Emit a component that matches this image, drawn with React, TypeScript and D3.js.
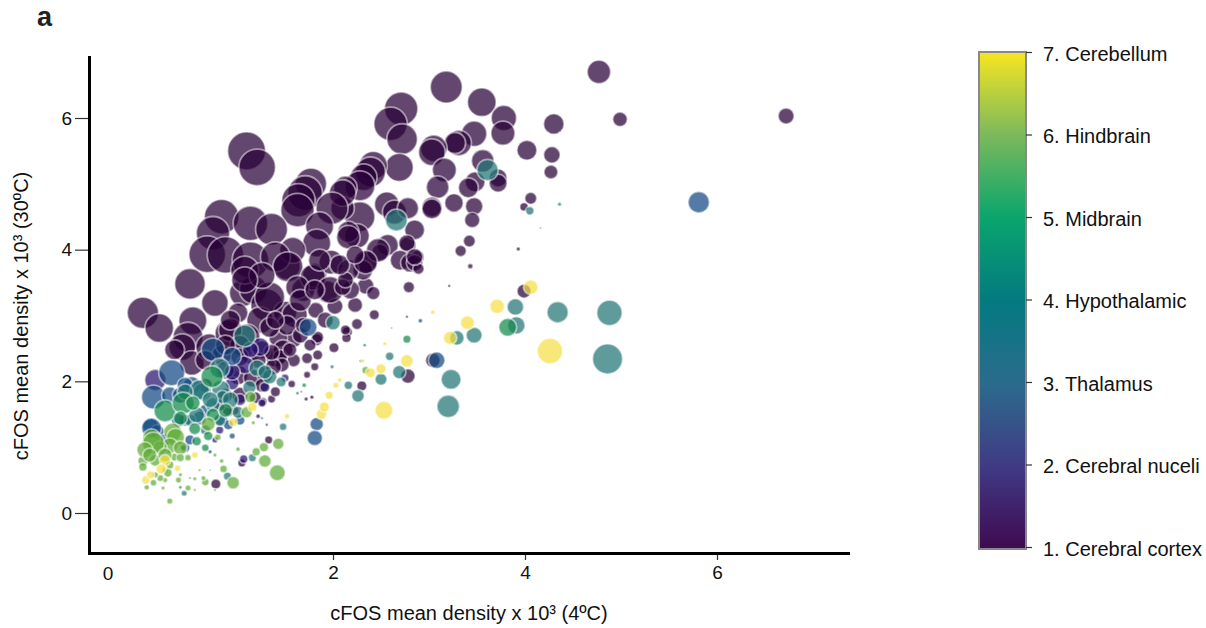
import React, { useEffect, useRef } from 'react';
import * as d3 from 'd3';

// each point: [4C density, 30C density, region volume]
const cortex = [
  [3.18,6.47,256],[3.55,6.24,205],[4.77,6.70,137],[4.99,5.98,53],[6.72,6.03,64],[3.78,6.00,161],[3.77,5.77,144],[4.30,5.91,106],
  [4.02,5.51,100],[4.28,5.44,69],[4.27,5.18,49],[2.71,6.14,279],[2.60,5.91,279],[2.72,5.68,234],[2.69,5.25,196],[3.47,5.76,161],
  [3.31,5.62,161],[3.27,5.62,114],[3.05,5.54,177],[3.03,5.48,177],[3.16,5.21,144],[3.09,4.95,128],[3.56,5.35,128],[3.72,5.09,81],
  [3.72,5.01,81],[3.48,5.03,100],[3.41,4.94,100],[3.26,4.71,86],[3.47,4.66,76],[3.45,4.45,59],[3.03,4.65,100],[3.03,4.62,100],
  [3.42,4.13,36],[3.33,3.98,32],[4.06,4.78,36],[3.99,4.65,18],[3.93,4.01,4],[2.42,5.28,196],[2.39,5.18,225],[2.32,5.10,177],
  [2.28,4.97,225],[2.56,4.69,151],[2.64,4.57,144],[2.78,4.63,114],[2.28,4.50,225],[2.13,4.94,137],[2.10,4.63,137],[2.25,4.21,151],
  [2.35,3.81,114],[2.57,4.07,114],[2.49,3.96,69],[2.78,4.07,69],[2.85,4.30,100],[2.88,3.89,45],[2.70,3.84,100],[2.80,3.80,86],
  [2.85,3.80,69],[2.89,3.71,32],[2.79,3.43,32],[3.43,3.75,7],[3.21,3.45,2],[1.77,5.00,246],[1.71,4.86,299],[1.64,4.75,279],
  [1.63,4.60,279],[2.10,4.86,177],[1.99,4.63,256],[1.86,4.36,196],[1.83,4.10,196],[1.10,5.50,361],[1.21,5.25,335],[0.84,4.50,299],
  [0.75,4.25,279],[1.14,4.40,299],[1.36,4.31,256],[0.69,3.93,335],[0.88,3.92,335],[1.14,3.84,335],[0.51,3.48,234],[0.02,3.04,246],
  [0.19,2.81,205],[0.77,3.19,177],[0.54,2.92,196],[0.49,2.67,225],[0.43,2.52,177],[0.53,2.28,151],[0.71,2.52,177],[0.91,2.73,177],
  [1.06,3.34,177],[1.17,3.39,196],[1.31,3.16,256],[1.24,2.93,177],[1.10,2.67,177],[1.50,3.04,137],[1.60,3.01,161],[1.69,3.39,137],
  [1.94,3.36,121],[2.02,3.14,64],[2.23,3.16,56],[2.34,3.45,69],[2.42,3.34,45],[2.43,3.01,25],[2.25,2.87,30],[2.15,2.75,25],
  [2.14,2.66,22],[2.01,2.51,25],[1.84,2.40,25],[1.73,2.35,30],[1.81,2.22,16],[1.73,2.10,12],[1.59,2.64,69],[1.43,2.66,86],
  [1.52,2.85,100],[1.34,2.82,100],[1.40,2.37,100],[1.48,2.48,100],[1.83,2.63,36],[1.59,2.32,45],[1.01,3.04,100],[1.57,1.96,14],
  [1.78,1.76,4],[1.72,1.73,4],[1.67,1.84,1],[1.36,1.73,16],[1.27,1.69,18],[1.33,1.11,16],[0.97,1.56,22],[0.91,1.55,32],
  [1.22,1.47,5],[1.31,1.34,2],[0.78,0.44,25],[1.05,0.76,16],[2.30,1.93,25],[3.99,3.37,49],[3.04,2.32,53],[2.78,2.08,53],
  [2.77,2.98,2],[1.52,3.75,177],[1.81,3.61,144],[1.98,3.81,144],[1.58,3.99,169],[1.40,3.89,225],[1.53,3.74,225],[1.34,3.28,225],
  [1.79,3.58,161],[1.97,3.39,177],[1.63,3.43,137],[2.31,3.69,100],[2.16,3.69,114],[2.18,3.39,86],[2.16,4.27,114],[2.77,4.10,69],
  [2.85,3.89,69],[2.16,4.19,137],[2.47,3.99,137],[2.34,3.81,137],[2.10,3.43,69],[0.93,2.78,137],[1.45,2.37,53],[1.84,2.67,36],
  [2.13,2.78,25],[1.08,3.69,196],[1.26,3.61,169],[1.08,3.54,169],[1.03,2.55,100],[1.14,2.40,81],[1.26,2.48,81],[0.84,2.40,100],
  [1.01,2.10,100],[1.16,2.05,81],[1.29,2.10,64],[1.03,1.79,64],[0.88,1.79,49],[0.35,2.48,100],[1.47,2.25,49],[1.38,2.22,64],
  [1.19,1.75,36],[1.82,3.08,64],[1.92,2.93,64],[1.66,2.70,64],[1.76,2.55,36],[1.55,2.48,49],[1.36,2.44,64],[1.22,2.32,64],
  [0.93,2.93,100],[1.03,2.37,81],[0.88,2.55,100],[1.40,2.93,81],[1.69,2.85,64],[2.13,3.54,64],[2.07,3.77,100],[2.23,3.92,81],
  [1.86,3.84,121],[1.66,3.23,121],[1.81,3.39,100],[0.67,2.32,100],[1.26,1.94,49],[1.40,1.84,25],
];
const nuclei = [
  [1.24,2.52,86],[1.08,2.25,81],[0.15,2.02,114],[0.95,1.97,45],[1.29,1.91,25],[1.07,0.82,18],[0.88,2.17,81],[1.50,2.05,16],
  [0.82,1.26,16],[0.77,1.11,9],[1.14,2.48,64],[0.95,2.14,64],[0.67,1.94,49],[1.03,1.72,36],[0.82,1.64,36],[1.26,1.67,16],
];
const thalamus = [
  [1.74,2.82,81],[0.75,2.48,137],[0.95,2.38,86],[0.32,2.13,169],[0.53,1.94,76],[0.13,1.76,144],[0.30,1.79,69],[0.10,1.32,64],
  [0.17,1.23,53],[0.46,1.41,36],[0.46,0.99,22],[1.83,1.35,45],[1.81,1.14,59],[5.81,4.72,114],[2.91,2.92,5],[3.08,2.32,69],
  [0.67,1.56,36],[0.95,1.17,9],[0.72,0.93,4],[0.11,1.29,100],[0.41,1.79,64],[0.46,1.94,64],[0.61,1.44,49],[0.39,1.41,49],
  [0.84,1.41,36],[1.03,1.41,25],[0.91,1.34,25],[0.25,1.11,36],[0.51,1.11,25],
];
const hypothalamic = [
  [3.61,5.21,114],[2.66,4.45,121],[4.05,4.59,18],[4.36,4.69,4],[4.16,4.33,1],[2.00,2.89,53],[1.08,2.69,121],[1.21,2.20,69],
  [0.82,2.20,100],[0.64,1.84,81],[0.83,1.88,81],[1.34,2.07,53],[1.46,1.99,25],[1.13,1.91,45],[0.75,1.64,53],[0.85,1.76,45],
  [1.48,1.31,14],[2.16,1.94,18],[2.26,1.78,40],[2.29,2.31,3],[1.99,2.22,4],[2.33,2.55,3],[1.63,1.82,3],[2.50,2.03,36],
  [2.69,2.14,45],[2.59,2.38,18],[2.61,2.81,1],[3.23,2.03,100],[3.20,1.62,128],[3.29,2.66,53],[3.47,2.70,64],[3.90,3.13,69],
  [3.91,2.85,76],[4.34,3.05,114],[4.88,3.04,161],[4.86,2.34,225],[0.45,0.30,9],[0.90,0.56,16],[1.16,0.84,16],[1.26,1.44,2],
  [0.41,0.39,3],[0.51,1.41,36],[0.61,1.87,100],[0.72,1.72,64],[0.58,1.49,64],[0.93,1.72,64],[0.46,1.84,64],[1.01,1.53,36],
  [0.67,1.26,25],[0.44,0.99,9],[0.82,1.41,36],[1.29,2.14,49],
];
const midbrain = [
  [0.74,2.07,121],[0.25,1.55,121],[0.44,1.67,121],[0.54,1.67,53],[0.75,1.49,45],[0.56,1.28,36],[0.70,1.17,22],[0.58,1.09,22],
  [0.67,0.99,14],[1.70,1.94,5],[2.77,2.64,16],[3.82,2.82,81],[0.41,1.44,49],[0.88,1.56,49],
];
const hindbrain = [
  [0.70,1.35,49],[1.10,1.53,32],[1.14,1.76,32],[0.11,1.14,81],[0.33,1.23,81],[0.36,1.15,81],[0.30,1.02,64],
  [0.02,0.79,25],[0.15,0.80,36],[0.49,0.84,11],[0.35,0.85,16],[0.30,0.73,16],[0.13,0.46,11],[0.06,0.39,7],[0.25,0.50,7],
  [0.49,0.38,9],[0.30,0.18,9],[0.67,0.47,14],[0.56,0.52,4],[0.96,0.46,40],[0.86,0.67,14],[0.84,0.79,5],[1.01,0.97,5],
  [0.80,1.15,11],[1.29,0.79,40],[1.42,0.61,64],[1.43,1.05,32],[1.28,1.00,22],[1.20,0.93,18],[1.17,1.37,4],[2.34,2.17,14],
  [0.20,0.99,49],[0.25,0.65,9],[0.41,0.58,4],[0.61,0.65,2],[0.72,0.65,1],[0.77,0.35,2],[0.51,0.53,2],[0.13,1.06,121],
  [0.41,0.99,49],[0.04,0.96,64],[0.09,0.88,49],[0.25,0.88,49],[0.41,0.84,16],[0.28,0.61,18],
  [0.02,0.70,18],[0.20,0.53,12],[0.39,0.50,9],[0.15,0.58,9],[0.77,0.88,4],[0.65,0.53,6],[0.56,0.35,2],[0.23,0.38,4],
];
const cerebellum = [
  [1.16,1.61,22],[0.96,1.38,18],[0.25,0.80,32],[0.21,0.67,25],[0.05,0.50,18],[0.10,0.58,16],[0.38,0.68,11],[0.56,0.88,11],
  [1.52,1.47,7],[1.88,1.50,28],[1.91,1.61,25],[1.96,1.79,16],[2.03,1.94,9],[2.07,2.02,5],[2.31,2.31,4],[2.54,2.57,4],
  [2.39,2.13,25],[2.50,2.19,25],[2.53,1.56,81],[2.77,2.31,40],[3.04,3.05,5],[3.22,2.66,45],[3.40,2.89,49],[3.71,3.14,53],
  [4.06,3.43,53],[4.26,2.46,161],
];

const regions = [cortex, nuclei, thalamus, hypothalamic, midbrain, hindbrain, cerebellum];
const regionFills = ['#2a0038', '#28136d', '#134a82', '#217474', '#13894a', '#5fab36', '#f4df44'];
const regionLabels = ['1. Cerebral cortex', '2. Cerebral nuceli', '3. Thalamus', '4. Hypothalamic', '5. Midbrain', '6. Hindbrain', '7. Cerebellum'];
const barColors = ['#3f0a50', '#403a85', '#2b6b8c', '#037a80', '#0aa56c', '#7cb95c', '#f7e620'];
const xTicks = [2, 4, 6];
const yTicks = [0, 2, 4, 6];
const barLevels = [1, 2, 3, 4, 5, 6, 7];

const font = '"Liberation Sans", Arial, sans-serif';

function App() {
  const xAxisRef = useRef<SVGGElement>(null);
  const yAxisRef = useRef<SVGGElement>(null);
  const barAxisRef = useRef<SVGGElement>(null);

  const x = d3.scaleLinear().domain([0, 6]).range([141, 717]);
  const y = d3.scaleLinear().domain([0, 6]).range([513, 118]);
  const size = d3.scaleSqrt().domain([0, 400]).range([0, 20]);
  const barY = d3.scaleLinear().domain([1, 7]).range([547, 52]);

  useEffect(() => {
    const style = (g: any) => {
      g.select('.domain').remove();
      g.selectAll('text').style('font-family', font).style('font-size', '19px').attr('fill', '#111');
      g.selectAll('line').attr('stroke', '#333').attr('stroke-width', 1.2);
    };
    d3.select(xAxisRef.current).call(d3.axisBottom(x).tickValues(xTicks).tickSize(7).tickPadding(6).tickFormat(d3.format('d')) as any).call(style);
    d3.select(yAxisRef.current).call(d3.axisLeft(y).tickValues(yTicks).tickSize(14).tickPadding(3).tickFormat(d3.format('d')) as any).call(style);
    d3.select(barAxisRef.current)
      .call(d3.axisRight(barY).tickValues(barLevels).tickSize(6).tickPadding(11).tickFormat((d: any) => regionLabels[d - 1]) as any)
      .call(style);
    d3.select(barAxisRef.current).selectAll('text').attr('dy', '0.42em').style('font-size', '20px');
  }, []);

  return (
    <svg width={1206} height={628} style={{ position: 'absolute', left: 0, top: 0 }}>
      <defs>
        <linearGradient id="viridisBar" x1="0" x2="0" y1="1" y2="0">
          {barColors.map((c, i) => <stop key={i} offset={`${(i / 6) * 100}%`} stopColor={c} />)}
        </linearGradient>
        <filter id="soft" x="-5%" y="-5%" width="110%" height="110%">
          <feGaussianBlur stdDeviation="0.45" />
        </filter>
      </defs>
      <text x={37} y={26} fontFamily={font} fontWeight="bold" fontSize={27} fill="#222">a</text>

      <g filter="url(#soft)">
        {regions.map((pts, i) => (
          <g key={i}>
            {pts.map((d, j) => (
              <circle key={j} cx={x(d[0])} cy={y(d[1])} r={size(d[2])} fill={regionFills[i]} fillOpacity={0.72}
                stroke="#fff" strokeOpacity={0.5} strokeWidth={1.8} />
            ))}
          </g>
        ))}
      </g>

      <g ref={yAxisRef} transform="translate(89,0)" />
      <g ref={xAxisRef} transform="translate(0,553)" />
      <line x1={89.5} x2={89.5} y1={56} y2={555} stroke="#000" strokeWidth={3} />
      <line x1={88} x2={850} y1={553.5} y2={553.5} stroke="#000" strokeWidth={3} />
      <text x={108} y={580} textAnchor="middle" fontFamily={font} fontSize={19} fill="#111">0</text>

      <text x={469} y={620} textAnchor="middle" fontFamily={font} fontSize={20} fill="#111">cFOS mean density x 10³ (4ºC)</text>
      <text transform="translate(28,316) rotate(-90)" textAnchor="middle" fontFamily={font} fontSize={20} fill="#111">cFOS mean density x 10³ (30ºC)</text>

      <rect x={979} y={52} width={47} height={497} fill="url(#viridisBar)" stroke="#888" strokeWidth={2} />
      <g ref={barAxisRef} transform="translate(1026,0)" />
    </svg>
  );
}

export default App;
